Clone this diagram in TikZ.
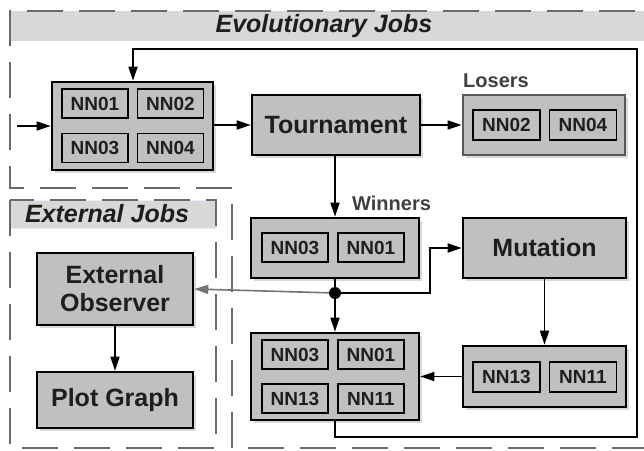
\documentclass[tikz,border=0pt]{standalone}
\usepackage{fontspec}
\setmainfont{Liberation Sans}
\usetikzlibrary{arrows.meta,shadows}
\definecolor{boxfill}{HTML}{C0C0C0}
\definecolor{dashgray}{HTML}{6A6A6A}
\definecolor{bandgray}{HTML}{D8D8D8}
\definecolor{txt}{HTML}{1E1E1E}
\begin{document}
\begin{tikzpicture}[x=1pt,y=-1pt,
  bigbox/.style={draw=black, line width=2.6pt, fill=boxfill,
    drop shadow={shadow xshift=2.5pt,shadow yshift=-2.5pt,opacity=0.3},
    inner sep=0pt, font=\fontsize{25}{28}\selectfont\bfseries, text=txt, align=center},
  grpbox/.style={bigbox, draw=black!65, line width=2.8pt},
  cell/.style={draw=black, line width=1.2pt, fill=boxfill, inner sep=0pt,
    minimum width=66pt, minimum height=29pt,
    font=\fontsize{19}{22}\selectfont\bfseries, text=txt},
  grplabel/.style={anchor=west, inner sep=0pt, font=\fontsize{20}{22}\selectfont\bfseries, text=black!75},
  zone/.style={draw=dashgray, line width=2.8pt, dash pattern=on 36pt off 16pt},
  conn/.style={line width=1.6pt, draw=black, -{Triangle[length=14pt,width=9pt]}},
  plain/.style={line width=1.6pt, draw=black},
  hdr/.style={font=\fontsize{25}{28}\selectfont\bfseries\itshape, text=txt, inner sep=0pt}
]
\useasboundingbox (0,0) rectangle (644,450);

% zones
\fill[bandgray] (10,11) rectangle (700,41);
\draw[zone] (700,448) -- (232,448) -- (232,188) -- (10,188) -- (10,11) -- (700,11);
\node[hdr] (evo) at (324,26) {Evolutionary Jobs};

\fill[bandgray, draw=blue!8, line width=0.6pt] (10,200) rectangle (216,228);
\draw[zone] (10,200) rectangle (216,448);
\node[hdr] (ext) at (107,214) {External Jobs};

% population box
\node[bigbox, minimum width=161pt, minimum height=88pt] (pop) at (132.5,126) {};
\node[cell] (p1) at (95,103.5) {NN01};
\node[cell] (p2) at (170.5,103.5) {NN02};
\node[cell] (p3) at (95,148) {NN03};
\node[cell] (p4) at (170.5,148) {NN04};

% tournament
\node[bigbox, minimum width=168pt, minimum height=60pt] (tour) at (336,125) {Tournament};

% losers
\node[grpbox, minimum width=162pt, minimum height=60pt] (los) at (544,125) {};
\node[cell, minimum width=67pt, minimum height=30pt] (l1) at (506.5,125) {NN02};
\node[cell, minimum width=67pt, minimum height=30pt] (l2) at (583,125) {NN04};
\node[grplabel] (loslab) at (463,81) {Losers};

% winners
\node[bigbox, minimum width=168pt, minimum height=60pt] (win) at (335,248) {};
\node[cell] (w1) at (295,247.5) {NN03};
\node[cell] (w2) at (371,247.5) {NN01};
\node[grplabel] (winlab) at (352,203) {Winners};

% mutation
\node[bigbox, minimum width=163pt, minimum height=60pt] (mut) at (544.5,248) {Mutation};

% mutated
\node[bigbox, minimum width=163pt, minimum height=61pt] (mtd) at (544.5,376.5) {};
\node[cell, minimum width=67pt, minimum height=30pt] (m1) at (506.5,377) {NN13};
\node[cell, minimum width=67pt, minimum height=30pt] (m2) at (583,377) {NN11};

% new population
\node[bigbox, minimum width=168pt, minimum height=87pt] (newp) at (335,376.5) {};
\node[cell] (n1) at (295,354.5) {NN03};
\node[cell] (n2) at (371,354.5) {NN01};
\node[cell] (n3) at (295,398.5) {NN13};
\node[cell] (n4) at (371,398.5) {NN11};

% external
\node[bigbox, minimum width=156pt, minimum height=72pt] (eo) at (115,289) {External\\Observer};
\node[bigbox, minimum width=156pt, minimum height=56pt] (pg) at (115,400) {Plot Graph};

% connectors
\coordinate (in) at (17,126);
\coordinate (junc) at (335,293);
\coordinate (bend) at (430,293);
\coordinate (fb1) at (335,437);
\coordinate (fb2) at (637,437);
\coordinate (fb3) at (637,49);
\coordinate (fb4) at (133,49);

\draw[conn] (in) -- (pop.west);
\draw[conn] (pop.east |- tour.west) -- (tour.west);
\draw[conn] (tour.east) -- (los.west);
\draw[conn] (tour.south -| win.north) -- (win.north);
\draw[plain] (win.south) -- (junc);
\draw[conn] (junc) -- (newp.north);
\draw[conn] (junc) -- (bend) |- (mut.west);
\draw[conn, draw=black!55, fill=black!55] (junc) -- (eo.east);
\fill[black] (junc) circle (6pt);
\draw[conn] (mut.south) -- (mtd.north);
\draw[conn] (mtd.west) -- (newp.east |- mtd.west);
\draw[conn] (eo.south) -- (pg.north);
\draw[conn] (newp.south) -- (fb1) -- (fb2) -- (fb3) -- (fb4) -- (fb4 |- pop.north);
\end{tikzpicture}
\end{document}
